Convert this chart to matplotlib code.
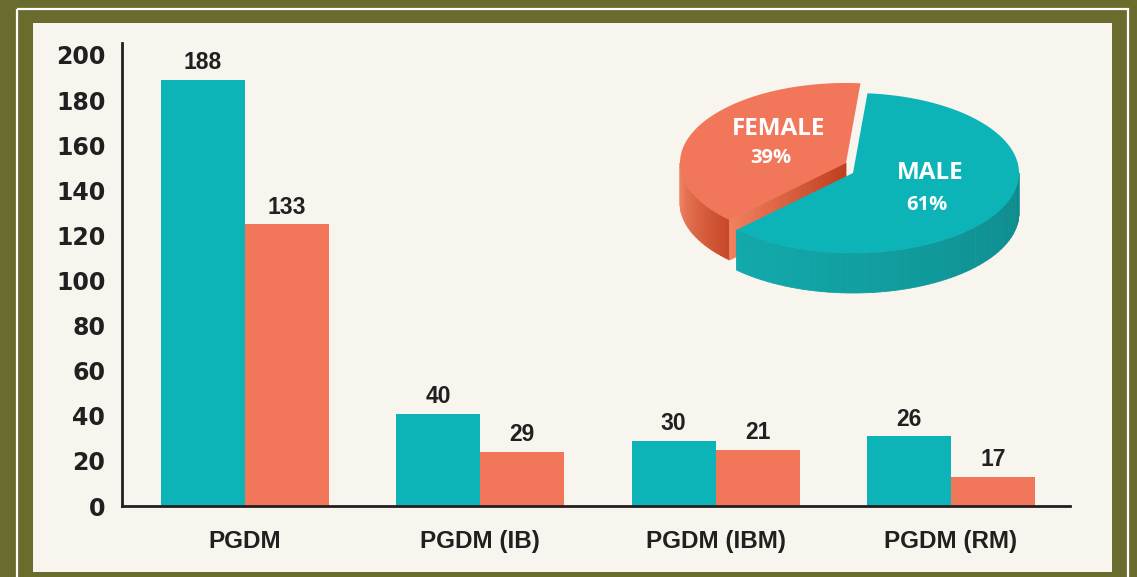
import numpy as np
import matplotlib.pyplot as plt
from matplotlib.patches import Rectangle, Polygon
from matplotlib.colors import to_rgb

# data
programs = ['PGDM', 'PGDM (IB)', 'PGDM (IBM)', 'PGDM (RM)']
male_heights = [189, 41, 29, 31]        # drawn bar heights
female_heights = [125, 24, 25, 13]
male_labels = ['188', '40', '30', '26']  # printed values
female_labels = ['133', '29', '21', '17']
yticks = [0, 20, 40, 60, 80, 100, 120, 140, 160, 180, 200]
pie_names = ['MALE', 'FEMALE']
pie_share = [61, 39]

TEAL = '#0cb4b7'
SALMON = '#f2765a'
OLIVE = '#6a6c2e'
CREAM = '#f8f4ee'
INK = '#231f20'

fig = plt.figure(figsize=(11.37, 5.77), dpi=100)
fig.patch.set_facecolor(OLIVE)

# background frame, in pixel coords
bg = fig.add_axes([0, 0, 1, 1], zorder=0)
bg.set_xlim(0, 1137)
bg.set_ylim(577, 0)
bg.axis('off')
bg.add_patch(Rectangle((17, 9), 1111, 600, fill=False, edgecolor='white', lw=1.6))
bg.add_patch(Rectangle((33, 23), 1079, 549, facecolor=CREAM, edgecolor='none'))

# bar chart
ax = fig.add_axes([122 / 1137, 71 / 577, 948 / 1137, 463 / 577], zorder=1)
ax.set_facecolor('none')
x = np.arange(len(programs))
w = 0.357
ax.bar(x - w / 2, male_heights, w, color=TEAL, zorder=2)
ax.bar(x + w / 2, female_heights, w, color=SALMON, zorder=2)
for xi, h, lab in zip(x - w / 2, male_heights, male_labels):
    ax.annotate(lab, (xi, h), xytext=(0, 4), textcoords='offset points', ha='center', va='bottom',
                fontsize=16.5, fontweight='bold', family='Liberation Sans', color=INK)
for xi, h, lab in zip(x + w / 2, female_heights, female_labels):
    ax.annotate(lab, (xi, h), xytext=(0, 4), textcoords='offset points', ha='center', va='bottom',
                fontsize=16.5, fontweight='bold', family='Liberation Sans', color=INK)

ax.set_xlim(-0.523, 3.506)
ax.set_ylim(0, 205.3)
ax.set_yticks(yticks)
ax.set_yticklabels([str(t) for t in yticks], fontsize=17, fontweight='bold', family='DejaVu Sans', color=INK)
ax.set_xticks(x)
ax.set_xticklabels(programs, fontsize=17.5, fontweight='bold', family='Liberation Sans', color=INK)
ax.tick_params(axis='y', length=0, pad=12)
ax.tick_params(axis='x', length=0, pad=17)
for s in ['top', 'right']:
    ax.spines[s].set_visible(False)
for s in ['left', 'bottom']:
    ax.spines[s].set_color(INK)
    ax.spines[s].set_linewidth(2)

# 3d-looking pie, in pixel coords
pa = fig.add_axes([0, 0, 1, 1], zorder=3)
pa.set_xlim(0, 1137)
pa.set_ylim(577, 0)
pa.axis('off')

cx, cy, rx, ry, depth = 853, 173, 166, 80, 40
start = 85.0
male_span = 360 * pie_share[0] / 100
t_split = start - male_span + 360          # lower-left boundary
fem_off = (-7, -10)


def rim(ox, oy, t):
    r = np.radians(t)
    return ox + rx * np.cos(r), oy - ry * np.sin(r)


def mix(c1, c2, f):
    a, b = np.array(to_rgb(c1)), np.array(to_rgb(c2))
    return tuple(a + (b - a) * f)


def curved_side(ox, oy, t0, t1, c_left, c_right, n=60):
    ts = np.linspace(t0, t1, n + 1)
    for i in range(n):
        xa, ya = rim(ox, oy, ts[i])
        xb, yb = rim(ox, oy, ts[i + 1])
        f = i / (n - 1)
        pa.add_patch(Polygon([(xa, ya), (xb, yb), (xb, yb + depth), (xa, ya + depth)],
                             closed=True, facecolor=mix(c_left, c_right, f), edgecolor=mix(c_left, c_right, f), lw=0.6))


def top_face(ox, oy, t0, t1, color):
    ts = np.linspace(t0, t1, 200)
    pts = [(ox, oy)] + [rim(ox, oy, t) for t in ts]
    pa.add_patch(Polygon(pts, closed=True, facecolor=color, edgecolor='none'))


# female wedge
fx, fy = cx + fem_off[0], cy + fem_off[1]
curved_side(fx, fy, 180, t_split, '#f48a68', '#c8492a', n=20)
# radial cut face along lower boundary
ex, ey = rim(fx, fy, t_split)
n = 40
for i in range(n):
    f0, f1 = i / n, (i + 1) / n
    xa, ya = ex + (fx - ex) * f0, ey + (fy - ey) * f0
    xb, yb = ex + (fx - ex) * f1, ey + (fy - ey) * f1
    c = mix('#f0805f', '#c0401f', i / (n - 1))
    pa.add_patch(Polygon([(xa, ya), (xb, yb), (xb, yb + depth), (xa, ya + depth)],
                         closed=True, facecolor=c, edgecolor=c, lw=0.6))
top_face(fx, fy, start, t_split, SALMON)

# male wedge
curved_side(cx, cy, t_split, 360, '#12aaac', '#0f8a8c')
top_face(cx, cy, t_split - 360, start, TEAL)

pa.text(779, 129, pie_names[1], ha='center', va='center', color='white', fontsize=17.5,
        fontweight='bold', family='Open Sans')
pa.text(771, 158, f'{pie_share[1]}%', ha='center', va='center', color='white', fontsize=14.5,
        fontweight='bold', family='Open Sans')
pa.text(930, 173, pie_names[0], ha='center', va='center', color='white', fontsize=17.5,
        fontweight='bold', family='Open Sans')
pa.text(927, 205, f'{pie_share[0]}%', ha='center', va='center', color='white', fontsize=14.5,
        fontweight='bold', family='Open Sans')

fig.savefig('out.png', dpi=100, facecolor=OLIVE)
